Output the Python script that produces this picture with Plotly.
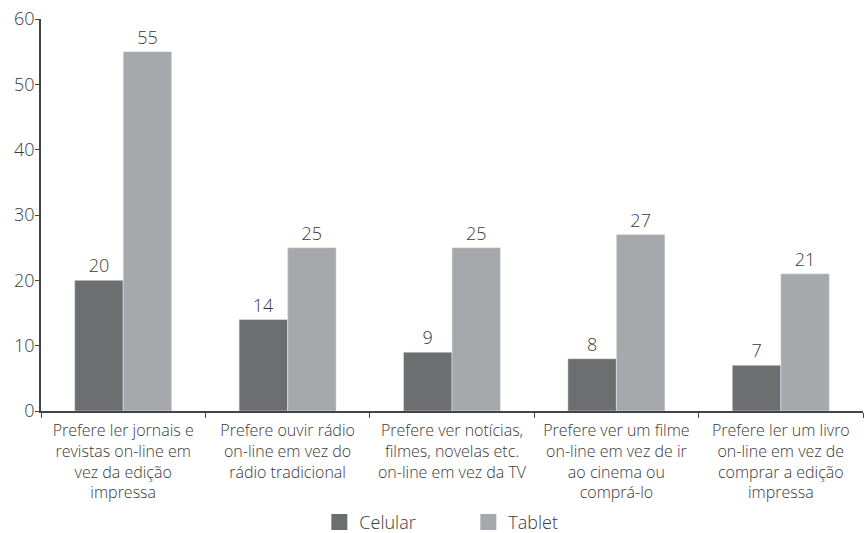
import plotly.graph_objects as go

categories = [
    "Prefere ler jornais e<br>revistas on-line em<br>vez da edição<br>impressa",
    "Prefere ouvir rádio<br>on-line em vez do<br>rádio tradicional",
    "Prefere ver notícias,<br>filmes, novelas etc.<br>on-line em vez da TV",
    "Prefere ver um filme<br>on-line em vez de ir<br>ao cinema ou<br>comprá-lo",
    "Prefere ler um livro<br>on-line em vez de<br>comprar a edição<br>impressa",
]
series_names = ["Celular", "Tablet"]
celular = [20, 14, 9, 8, 7]
tablet = [55, 25, 25, 27, 21]
colors = ["#6d6e70", "#a7a8ab"]
y_ticks = [0, 10, 20, 30, 40, 50, 60]

FONT = "Open Sans"
TXT = "#3a3a3a"

fig = go.Figure()
for name, vals, col in zip(series_names, [celular, tablet], colors):
    fig.add_trace(go.Bar(
        name=name, x=categories, y=vals, marker_color=col,
        text=[str(v) for v in vals], textposition="outside",
        textfont=dict(size=18, color=TXT, family=FONT, weight=300),
        cliponaxis=False, showlegend=False,
    ))
# legend markers (larger squares)
for name, col in zip(series_names, colors):
    fig.add_trace(go.Scatter(
        x=[None], y=[None], mode="markers", name=name,
        marker=dict(symbol="square", size=16, color=col),
    ))

fig.update_layout(
    width=864, height=533,
    margin=dict(l=41, r=1, t=19, b=122),
    paper_bgcolor="white", plot_bgcolor="white",
    barmode="group", bargap=0.41, bargroupgap=0,
    font=dict(family=FONT, color=TXT, weight=300),
    showlegend=True,
    legend=dict(
        orientation="h", xref="container", yref="container",
        x=0.3696, xanchor="left", y=0.02, yanchor="middle",
        font=dict(size=18, color=TXT, family=FONT, weight=300),
        itemwidth=30, tracegroupgap=0, entrywidthmode="pixels", entrywidth=104,
    ),
    xaxis=dict(
        showline=True, linecolor="#444", linewidth=1.5, automargin=False,
        ticks="outside", tickson="boundaries", ticklen=5, tickcolor="#444",
        ticklabelstandoff=4,
        tickfont=dict(size=16, color=TXT, family=FONT, weight=300),
        showgrid=False,
    ),
    yaxis=dict(
        range=[0, 60], tickvals=y_ticks, automargin=False,
        showline=True, linecolor="#444", linewidth=1.5,
        ticks="outside", ticklen=4, tickcolor="#444",
        ticklabelstandoff=-3,
        tickfont=dict(size=18, color=TXT, family=FONT, weight=300),
        showgrid=False, zeroline=False,
    ),
)

fig.write_html(
    "out.html",
    config={"displayModeBar": False},
    post_script="document.body.style.margin='0';document.body.style.overflow='hidden';",
)
